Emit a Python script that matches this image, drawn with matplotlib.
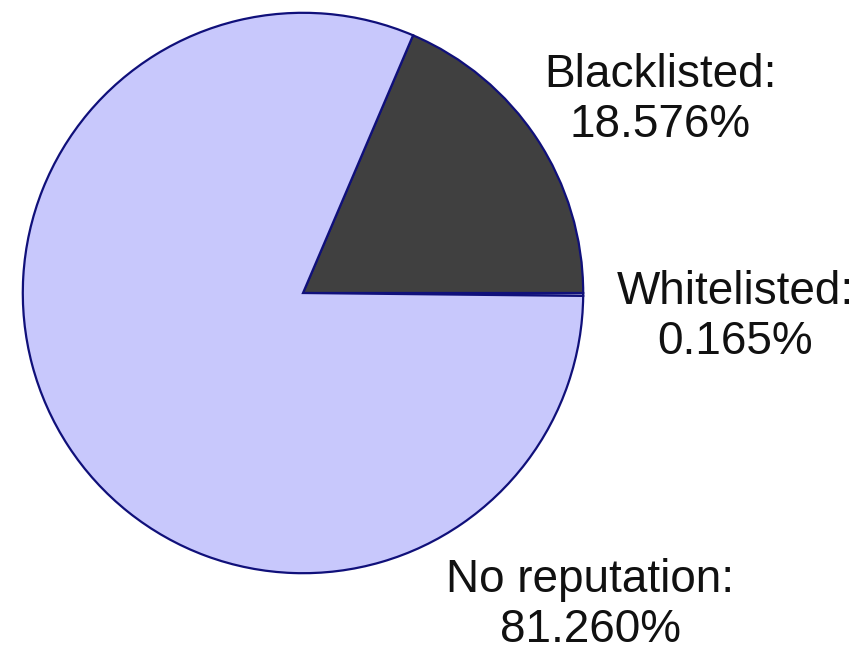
import matplotlib.pyplot as plt

# slice data (percent)
labels = ['Whitelisted', 'Blacklisted', 'No reputation']
shares = [0.165, 18.576, 81.260]
colors = ['#ffffff', '#404040', '#c8c8fc']

fig = plt.figure(figsize=(8.59, 6.55), dpi=100)
ax = fig.add_axes([20/859, 79/655, 566/859, 566/655])

# whitelisted slice sits just under 3 o'clock, blacklisted goes ccw from there
start = -shares[0] * 3.6
ax.pie(shares, colors=colors, startangle=start, counterclock=True, radius=1,
       wedgeprops=dict(edgecolor='#10107a', linewidth=1.6))
ax.set_xlim(-1.01, 1.01)
ax.set_ylim(-1.01, 1.01)
ax.set_aspect('equal')
ax.axis('off')

# labels
font = dict(family=['Liberation Sans', 'DejaVu Sans'], fontsize=33, color='#111111',
            ha='center', va='center', linespacing=1.18)
for lab, val, x, y in [(labels[1], shares[1], 660, 100),
                       (labels[0], shares[0], 735, 317),
                       (labels[2], shares[2], 590, 605)]:
    fig.text(x/859, 1 - y/655, '%s:\n%.3f%%' % (lab, val), **font)

fig.savefig('out.png', dpi=100)
